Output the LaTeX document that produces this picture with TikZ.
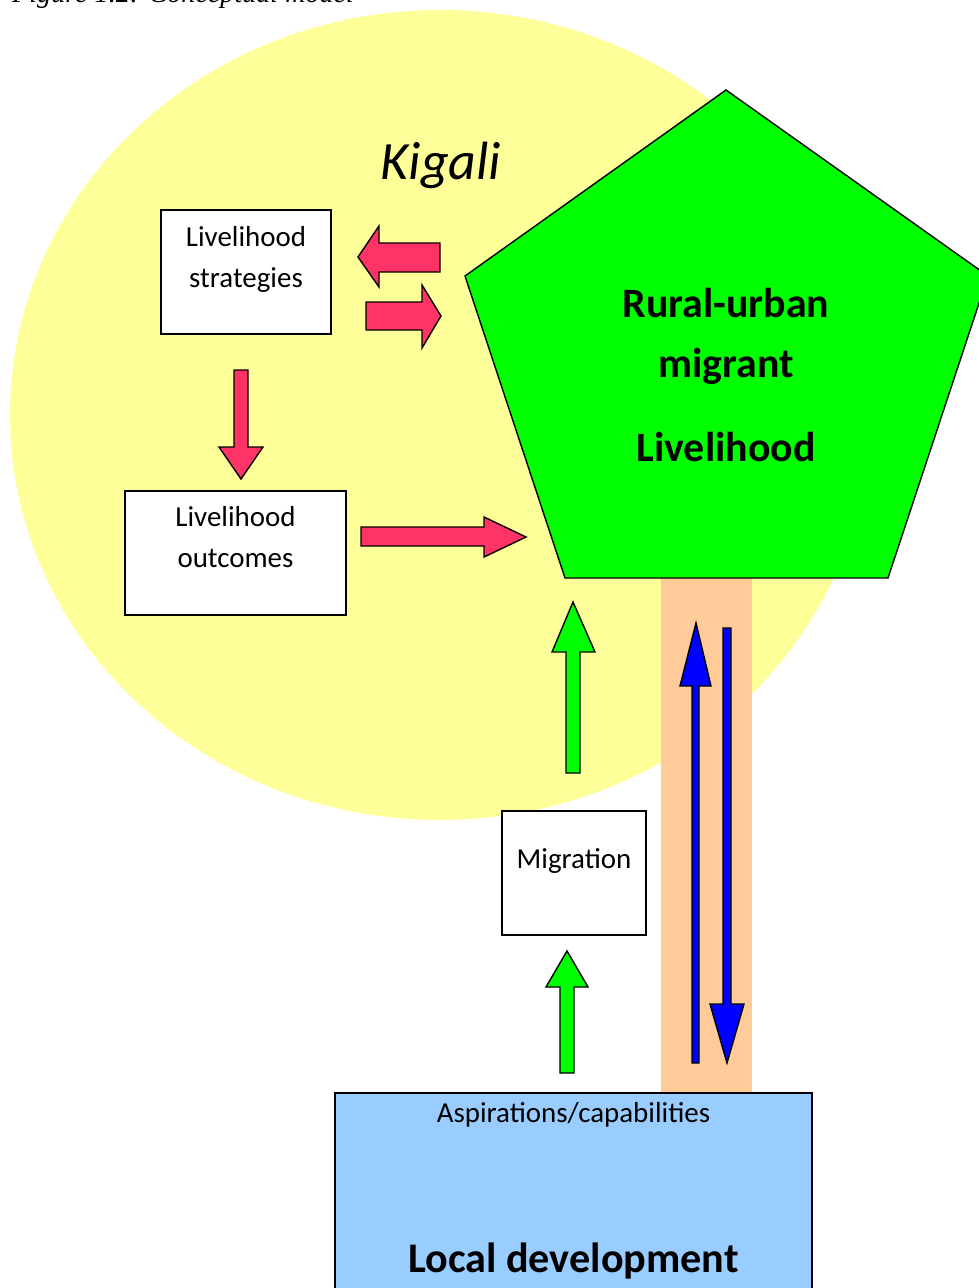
\documentclass[tikz,border=0pt]{standalone}
\usepackage{fontspec}
\setmainfont{Carlito}
\newfontfamily\capfont{Liberation Serif}
\usetikzlibrary{positioning}

\definecolor{cityyellow}{HTML}{FFFF99}
\definecolor{pentgreen}{HTML}{00FF00}
\definecolor{bartan}{HTML}{FFCC99}
\definecolor{localblue}{HTML}{99CCFF}
\definecolor{arrowred}{HTML}{FF3366}
\definecolor{arrowblue}{HTML}{0000FF}

\begin{document}
\begin{tikzpicture}[x=0.03cm,y=-0.03cm,
  box/.style={draw,fill=white,line width=1.2pt,inner sep=0pt},
  boxtext/.style={align=center,font=\fontsize{24.7}{34.9}\selectfont},
  redarrow/.style={draw,line width=1.2pt,fill=arrowred,line join=miter},
  greenarrow/.style={draw,line width=1.2pt,fill=pentgreen},
  bluearrow/.style={draw,line width=1.2pt,fill=arrowblue}]
\useasboundingbox (0,0) rectangle (978,1288);
% caption, cut off at the top
\node[anchor=base west,inner sep=0pt,font=\capfont\itshape\fontsize{24}{28}\selectfont] (caption) at (12,2) {Figure 1.2: Conceptual model};
% city and migrant
\fill[cityyellow] (440,415) ellipse [x radius=430,y radius=405];
\fill[bartan] (661,578) rectangle (752,1093);
\draw[fill=pentgreen,line width=1.2pt] (726,90) coordinate (ptop) -- (988,276) coordinate (pright)
  -- (888,578) coordinate (pbr) -- (565,578) coordinate (pbl) -- (465,276) coordinate (pleft) -- cycle;
\node[align=center,font=\bfseries\fontsize{35.7}{51}\selectfont] (migrant) at (726,375) {Rural-urban\\migrant\\[21pt]Livelihood};
\node[font=\itshape\fontsize{46}{50}\selectfont] (kigali) at (441,165) {Kigali};
% boxes
\node[box,minimum width=5.1cm,minimum height=3.72cm] (strat) at (246,272) {};
\node[boxtext] (strattext) at ([yshift=0.39cm]strat.center) {Livelihood\\strategies};
\node[box,minimum width=6.63cm,minimum height=3.72cm] (outc) at (235.5,553) {};
\node[boxtext] (outctext) at ([yshift=0.48cm]outc.center) {Livelihood\\outcomes};
\node[box,minimum width=4.32cm,minimum height=3.72cm] (migr) at (574,873) {};
\node[boxtext] (migrtext) at ([yshift=0.36cm]migr.center) {Migration};
\node[box,fill=localblue,minimum width=14.31cm,minimum height=6.3cm] (local) at (573.5,1198) {};
\node[boxtext,anchor=base] (aspir) at (573.5,1122) {Aspirations/capabilities};
\node[anchor=base,font=\bfseries\fontsize{36}{40}\selectfont] (localtext) at (573.5,1272) {Local development};
% block arrows
\draw[redarrow] (440,243) -- (379,243) -- (379,226) -- (358,257) -- (379,287) -- (379,272) -- (440,272) -- cycle;
\draw[redarrow] (366,302) -- (422,302) -- (422,285) -- (441,316) -- (422,348) -- (422,330) -- (366,330) -- cycle;
\draw[redarrow] (234,370) -- (248,370) -- (248,447) -- (263,447) -- (241,479) -- (219,447) -- (234,447) -- cycle;
\draw[redarrow] (361,527) -- (484,527) -- (484,517) -- (526,537) -- (484,557) -- (484,546) -- (361,546) -- cycle;
\draw[greenarrow] (566,773) -- (566,652) -- (552,652) -- (573,602) -- (595,652) -- (580,652) -- (580,773) -- cycle;
\draw[greenarrow] (560,1073) -- (560,987) -- (546,987) -- (567,951) -- (588,987) -- (574,987) -- (574,1073) -- cycle;
\draw[bluearrow] (692,1063) -- (692,686) -- (680,686) -- (696,623) -- (711,686) -- (699,686) -- (699,1063) -- cycle;
\draw[bluearrow] (723,628) -- (731,628) -- (731,1004) -- (744,1004) -- (727,1063) -- (710,1004) -- (723,1004) -- cycle;
\end{tikzpicture}
\end{document}
